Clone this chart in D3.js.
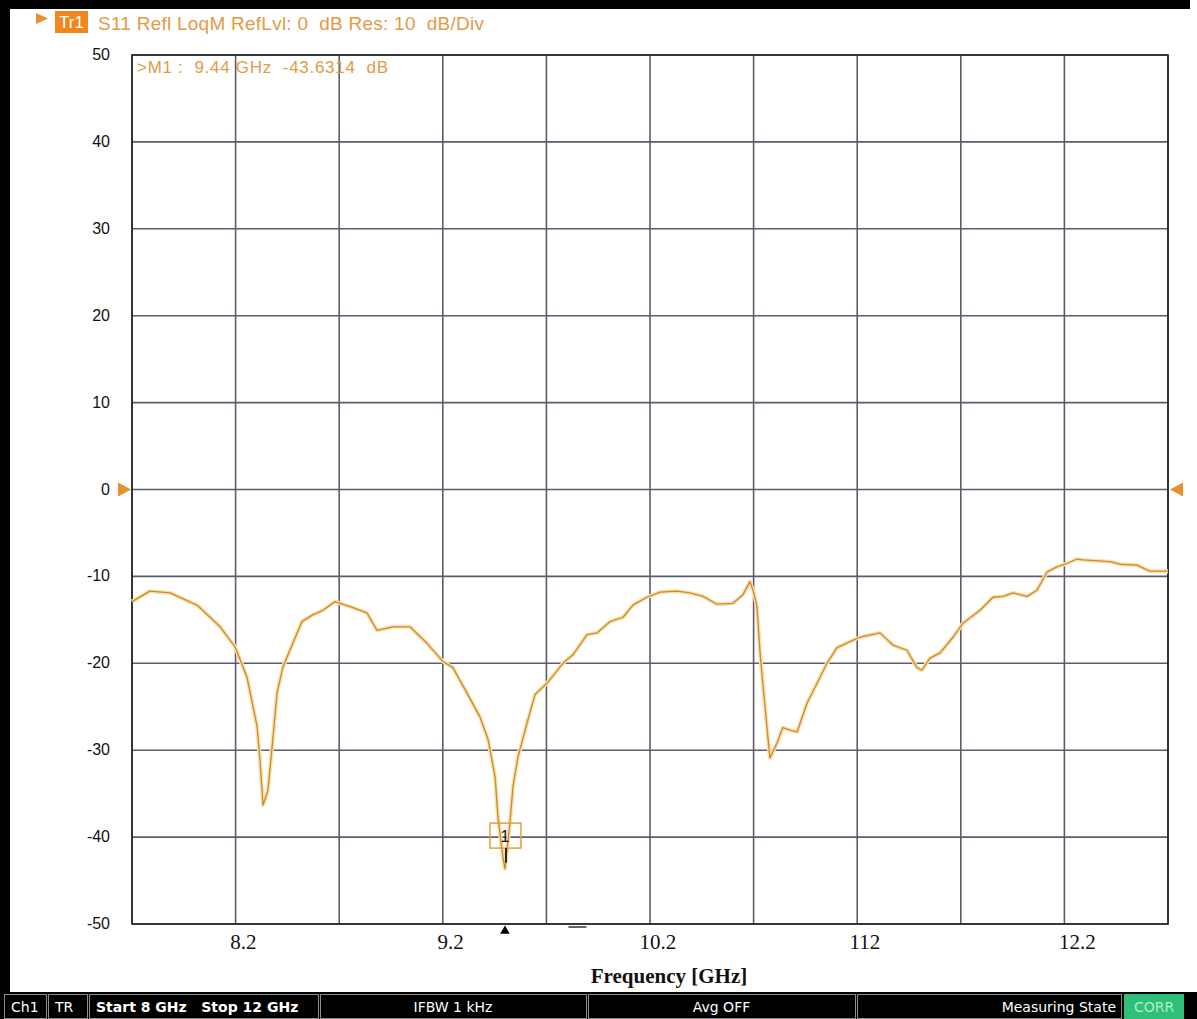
<!DOCTYPE html>
<html>
<head>
<meta charset="utf-8">
<script src="https://cdn.jsdelivr.net/npm/d3@7"></script>
<style>
  body { margin: 0; background: #fff; }
  svg { display: block; }
</style>
</head>
<body>
<div id="chart"></div>
<script>
// S11 trace (GHz, dB)
const freq = [
  8.000, 8.069, 8.147, 8.251, 8.340, 8.398, 8.444, 8.483, 8.494, 8.506,
  8.525, 8.541, 8.560, 8.583, 8.656, 8.699, 8.737, 8.784, 8.853, 8.907,
  8.946, 9.008, 9.073, 9.139, 9.201, 9.239, 9.293, 9.344, 9.375, 9.402,
  9.413, 9.432, 9.440, 9.459, 9.471, 9.490, 9.525, 9.556, 9.602, 9.664,
  9.703, 9.757, 9.795, 9.846, 9.896, 9.934, 9.988, 10.039, 10.104, 10.154,
  10.205, 10.259, 10.320, 10.359, 10.386, 10.401, 10.413, 10.425, 10.444, 10.463,
  10.490, 10.513, 10.541, 10.568, 10.606, 10.645, 10.683, 10.722, 10.772, 10.811,
  10.888, 10.938, 10.992, 11.031, 11.050, 11.081, 11.120, 11.170, 11.208, 11.274,
  11.324, 11.363, 11.402, 11.456, 11.494, 11.533, 11.571, 11.602, 11.649, 11.672,
  11.776, 11.815, 11.880, 11.930, 12.000
];
const s11 = [
  -12.9, -11.7, -11.9, -13.3, -15.8, -18.1, -21.6, -27.3, -31.1, -36.3,
  -34.6, -29.6, -23.4, -20.4, -15.2, -14.4, -13.9, -12.9, -13.6, -14.2,
  -16.2, -15.8, -15.8, -17.7, -19.8, -20.5, -23.4, -26.2, -28.8, -33.1,
  -37.7, -42.3, -43.63, -38.4, -34.2, -30.8, -26.9, -23.6, -22.3, -20.0,
  -19.0, -16.7, -16.5, -15.2, -14.7, -13.3, -12.4, -11.8, -11.7, -11.9,
  -12.3, -13.2, -13.1, -12.1, -10.6, -11.9, -13.5, -18.8, -25.0, -30.9,
  -29.2, -27.4, -27.7, -27.9, -24.6, -22.3, -20.0, -18.2, -17.5, -17.0,
  -16.5, -17.9, -18.5, -20.5, -20.8, -19.4, -18.8, -17.0, -15.4, -13.9,
  -12.4, -12.3, -11.9, -12.3, -11.6, -9.5, -8.9, -8.6, -8.0, -8.1,
  -8.3, -8.6, -8.7, -9.4, -9.4
];

// y ticks (dB) and the hand-written frequency labels under the grid
const yTicks = [50, 40, 30, 20, 10, 0, -10, -20, -30, -40, -50];
const xLabelPos = [8.43, 9.23, 10.03, 10.83, 11.65];
const xLabels = ["8.2", "9.2", "10.2", "112", "12.2"];

// marker M1
const markerFreq = 9.44;
const markerVal = -43.6314;

// status bar cells
const statusCells = [
  { text: "Ch1", bold: false, align: "start" },
  { text: "TR", bold: false, align: "start" },
  { text: "Start 8 GHz   Stop 12 GHz", bold: true, align: "start" },
  { text: "IFBW 1 kHz", bold: false, align: "middle" },
  { text: "Avg OFF", bold: false, align: "middle" },
  { text: "Measuring State", bold: false, align: "end" }
];
const statusEdges = [4, 48, 89, 320, 588, 857, 1123];

const W = 1197, H = 1019;
const margin = { top: 55, right: 29, bottom: 95, left: 132 };
const orange = "#e8912a";
const gridCol = "#5c5c6c";

const svg = d3.select("#chart").append("svg")
  .attr("width", W)
  .attr("height", H);

// black frame of the analyzer window
svg.append("rect").attr("x", 0).attr("y", 0).attr("width", 1190).attr("height", 9).attr("fill", "#000");
svg.append("rect").attr("x", 0).attr("y", 0).attr("width", 10).attr("height", H).attr("fill", "#000");

const x = d3.scaleLinear().domain([8, 12]).range([margin.left, W - margin.right]);
const y = d3.scaleLinear().domain([-50, 50]).range([H - margin.bottom, margin.top]);

// grid
const g = svg.append("g");
g.selectAll("line.h")
  .data(yTicks)
  .enter().append("line")
  .attr("x1", x(8)).attr("x2", x(12))
  .attr("y1", d => y(d)).attr("y2", d => y(d))
  .attr("stroke", gridCol).attr("stroke-width", 1.6);

g.selectAll("line.v")
  .data(d3.range(8, 12.001, 0.4))
  .enter().append("line")
  .attr("x1", d => x(d)).attr("x2", d => x(d))
  .attr("y1", y(50)).attr("y2", y(-50))
  .attr("stroke", gridCol).attr("stroke-width", 1.6);

g.append("rect")
  .attr("x", x(8)).attr("y", y(50))
  .attr("width", x(12) - x(8)).attr("height", y(-50) - y(50))
  .attr("fill", "none").attr("stroke", "#222").attr("stroke-width", 1.6);

// y labels
svg.selectAll("text.ylab")
  .data(yTicks)
  .enter().append("text")
  .attr("x", margin.left - 22)
  .attr("y", d => y(d) + 5)
  .attr("text-anchor", "end")
  .attr("font-family", "Liberation Sans, Arial, sans-serif")
  .attr("font-size", 16)
  .attr("fill", "#111")
  .text(d => d);

// x labels
svg.selectAll("text.xlab")
  .data(xLabelPos)
  .enter().append("text")
  .attr("x", d => x(d))
  .attr("y", y(-50) + 25)
  .attr("text-anchor", "middle")
  .attr("font-family", "Liberation Serif, Times New Roman, serif")
  .attr("font-size", 21)
  .attr("fill", "#111")
  .text((d, i) => xLabels[i]);

svg.append("text")
  .attr("x", 669).attr("y", 983)
  .attr("text-anchor", "middle")
  .attr("font-family", "Liberation Serif, Times New Roman, serif")
  .attr("font-weight", "bold")
  .attr("font-size", 21)
  .attr("fill", "#111")
  .text("Frequency [GHz]");

// trace
const pts = freq.map((f, i) => [f, s11[i]]);
const line = d3.line().x(d => x(d[0])).y(d => y(d[1]));
svg.append("path").datum(pts)
  .attr("d", line)
  .attr("fill", "none")
  .attr("stroke", "#f7e0b0")
  .attr("stroke-width", 4)
  .attr("stroke-linejoin", "round");
svg.append("path").datum(pts)
  .attr("d", line)
  .attr("fill", "none")
  .attr("stroke", "#cf8a2a")
  .attr("stroke-width", 1.3)
  .attr("stroke-linejoin", "round");

// marker box
const mx = x(markerFreq), my = y(-40);
svg.append("rect")
  .attr("x", mx - 15).attr("y", my - 14)
  .attr("width", 31).attr("height", 25)
  .attr("fill", "none").attr("stroke", "#e0a040").attr("stroke-width", 1.5);
svg.append("text")
  .attr("x", mx).attr("y", my + 5)
  .attr("text-anchor", "middle")
  .attr("font-family", "Liberation Sans, Arial, sans-serif")
  .attr("font-size", 16)
  .attr("fill", "#111")
  .text("1");
svg.append("line")
  .attr("x1", mx + 1).attr("x2", mx + 1)
  .attr("y1", my + 11).attr("y2", y(markerVal) - 6)
  .attr("stroke", "#222").attr("stroke-width", 2);

// marker triangle under the axis and the small dash
svg.append("path")
  .attr("d", d3.symbol().type(d3.symbolTriangle).size(40)())
  .attr("transform", `translate(${mx},${y(-50) + 7})`)
  .attr("fill", "#000");
svg.append("line")
  .attr("x1", x(9.72) - 9).attr("x2", x(9.72) + 9)
  .attr("y1", y(-50) + 3).attr("y2", y(-50) + 3)
  .attr("stroke", "#333").attr("stroke-width", 1.5);

// reference level arrows at 0 dB
svg.append("path")
  .attr("d", `M${x(8) - 14},${y(0) - 7}L${x(8) - 1},${y(0)}L${x(8) - 14},${y(0) + 7}Z`)
  .attr("fill", orange);
svg.append("path")
  .attr("d", `M${x(12) + 15},${y(0) - 7}L${x(12) + 2},${y(0)}L${x(12) + 15},${y(0) + 7}Z`)
  .attr("fill", orange);

// header
svg.append("path").attr("d", "M36,13L48,18.5L36,24Z").attr("fill", orange);
svg.append("rect").attr("x", 55).attr("y", 11).attr("width", 33).attr("height", 22).attr("fill", "#f0861c");
svg.append("text")
  .attr("x", 71.5).attr("y", 28)
  .attr("text-anchor", "middle")
  .attr("font-family", "Liberation Sans, Arial, sans-serif")
  .attr("font-size", 17)
  .attr("fill", "#fff")
  .text("Tr1");
svg.append("text")
  .attr("x", 98).attr("y", 30)
  .attr("font-family", "Liberation Sans, Arial, sans-serif")
  .attr("font-size", 19)
  .attr("fill", "#e39a44")
  .attr("textLength", 386)
  .attr("lengthAdjust", "spacing")
  .attr("xml:space", "preserve")
  .text("S11 Refl LoqM RefLvl: 0  dB Res: 10  dB/Div");

svg.append("text")
  .attr("x", x(8) + 5).attr("y", 73)
  .attr("font-family", "Liberation Sans, Arial, sans-serif")
  .attr("font-size", 17)
  .attr("fill", "#e39a44")
  .attr("textLength", 251)
  .attr("lengthAdjust", "spacing")
  .attr("xml:space", "preserve")
  .text(`>M1 :  ${markerFreq} GHz  ${markerVal}  dB`);

// status bar
const sb = svg.append("g").attr("transform", "translate(0,992)");
sb.append("rect").attr("x", 0).attr("y", 0).attr("width", W).attr("height", H - 992).attr("fill", "#000");
statusCells.forEach((c, i) => {
  const x0 = statusEdges[i], x1 = statusEdges[i + 1] - 2;
  sb.append("rect")
    .attr("x", x0 + 0.5).attr("y", 2.5)
    .attr("width", x1 - x0).attr("height", 24)
    .attr("fill", "#000").attr("stroke", "#8a8a8a");
  const tx = c.align === "start" ? x0 + 7 : c.align === "middle" ? (x0 + x1) / 2 : x1 - 5;
  sb.append("text")
    .attr("x", tx).attr("y", 20)
    .attr("text-anchor", c.align)
    .attr("font-family", "DejaVu Sans, sans-serif")
    .attr("font-size", 14)
    .attr("font-weight", c.bold ? "bold" : "normal")
    .attr("fill", "#fff")
    .attr("xml:space", "preserve")
    .text(c.text);
});
sb.append("rect").attr("x", 1124).attr("y", 2).attr("width", 60).attr("height", 25).attr("fill", "#2fbf78");
sb.append("text")
  .attr("x", 1154).attr("y", 20)
  .attr("text-anchor", "middle")
  .attr("font-family", "DejaVu Sans, sans-serif")
  .attr("font-size", 14)
  .attr("fill", "#a8f0c8")
  .text("CORR");
</script>
</body>
</html>
